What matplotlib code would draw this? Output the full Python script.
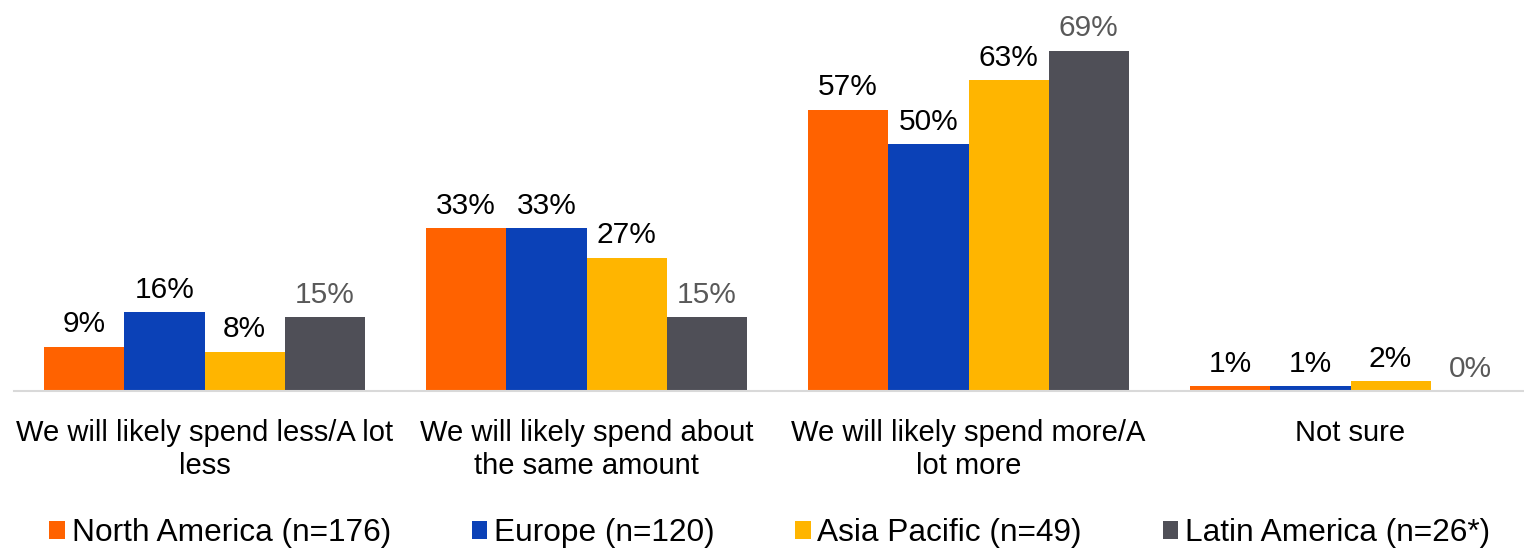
import numpy as np
import matplotlib.pyplot as plt

plt.rcParams['font.family'] = ['Liberation Sans', 'DejaVu Sans']

categories = ['We will likely spend less/A lot\nless',
              'We will likely spend about\nthe same amount',
              'We will likely spend more/A\nlot more',
              'Not sure']
series_names = ['North America (n=176)', 'Europe (n=120)',
                'Asia Pacific (n=49)', 'Latin America (n=26*)']
north_america = [9, 33, 57, 1]
europe = [16, 33, 50, 1]
asia_pacific = [8, 27, 63, 2]
latin_america = [15, 15, 69, 0]

colors = ['#ff6200', '#0b41b7', '#ffb500', '#4f4f57']
label_colors = ['black', 'black', 'black', '#595959']

fig = plt.figure(figsize=(15.24, 5.48), dpi=100)
ax = fig.add_axes([13.5 / 1524, 1 - 391 / 548, 1528 / 1524, 370 / 548])

x = np.arange(len(categories))
width = 0.84 / 4
all_series = [north_america, europe, asia_pacific, latin_america]
for i, vals in enumerate(all_series):
    pos = x - 0.42 + width * (i + 0.5)
    bars = ax.bar(pos, vals, width, color=colors[i], label=series_names[i])
    for b, v in zip(bars, vals):
        ax.annotate(f'{v}%', (b.get_x() + b.get_width() / 2, v),
                    xytext=(0, 6), textcoords='offset points',
                    ha='center', va='bottom', fontsize=21.5,
                    color=label_colors[i], annotation_clip=False)

ax.set_xlim(-0.5, 3.5)
ax.set_ylim(0, 75)
ax.set_yticks([])
ax.set_xticks(x)
ax.set_xticklabels(categories, fontsize=21, linespacing=1.25)
ax.tick_params(axis='x', length=0, pad=20)
for s in ['top', 'right', 'left']:
    ax.spines[s].set_visible(False)
ax.spines['bottom'].set_color('#d9d9d9')
ax.spines['bottom'].set_linewidth(1.5)

fig.legend(loc='center', ncol=4, frameon=False, fontsize=22.8,
           bbox_to_anchor=(0.505, 1 - 533 / 548), handlelength=0.5,
           handleheight=0.5, handletextpad=0.2, columnspacing=2.55)

fig.savefig('out.png', dpi=100)
